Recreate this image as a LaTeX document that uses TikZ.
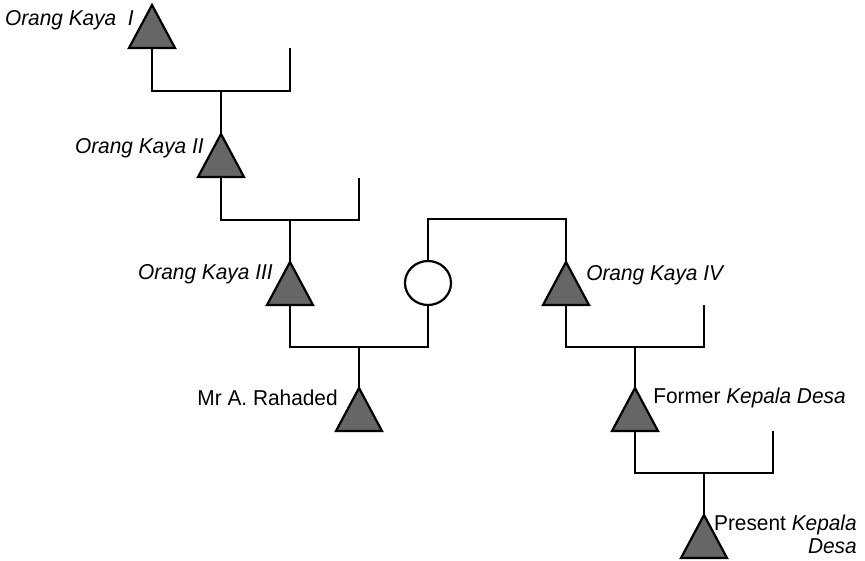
\documentclass[tikz,border=0pt]{standalone}
\usepackage{fontspec}
\setmainfont{Liberation Sans}[FakeStretch=0.97]
\usetikzlibrary{shapes.geometric}
\begin{document}
\begin{tikzpicture}[x=1pt,y=-1pt,line width=2.6pt,
	man/.style={isosceles triangle,isosceles triangle stretches,shape border rotate=90,
		minimum width=46pt,minimum height=43pt,inner sep=0pt,outer sep=0pt,
		draw,line width=2.2pt,fill=black!60,anchor=apex},
	woman/.style={ellipse,draw,line width=2.2pt,fill=white,minimum width=46pt,minimum height=44pt,
		inner sep=0pt,outer sep=0pt},
	lbl/.style={inner sep=0pt,font=\fontsize{21.5}{23}\selectfont}]
		\useasboundingbox (0,0) rectangle (865,560);

		% persons
		\node[man] (ok1) at (152,5) {};
		\node[man] (ok2) at (221,134) {};
		\node[man] (ok3) at (290,262) {};
		\node[woman] (wife) at (428,283) {};
		\node[man] (ok4) at (566,262) {};
		\node[man] (rah) at (359,388) {};
		\node[man] (fkd) at (635,388) {};
		\node[man] (pkd) at (704,515) {};

		% spouses and bar midpoints
		\coordinate (sp1) at (290,48);
		\coordinate (sp2) at (359,178);
		\coordinate (sp4) at (704,305);
		\coordinate (sp5) at (773,431);
		\coordinate (m1) at (221,91);
		\coordinate (m2) at (290,220);
		\coordinate (m3) at (359,347);
		\coordinate (m4) at (635,347);
		\coordinate (m5) at (704,473);
		\coordinate (sib) at (497,219);

		\draw (ok1.lower side) |- (m1) -| (sp1);
		\draw (m1) -- (ok2.apex);
		\draw (ok2.lower side) |- (m2) -| (sp2);
		\draw (m2) -- (ok3.apex);
		\draw (ok3.lower side) |- (m3) -| (wife.south);
		\draw (m3) -- (rah.apex);
		\draw (wife.north) |- (sib) -| (ok4.apex);
		\draw (ok4.lower side) |- (m4) -| (sp4);
		\draw (m4) -- (fkd.apex);
		\draw (fkd.lower side) |- (m5) -| (sp5);
		\draw (m5) -- (pkd.apex);

		% labels
		\node[lbl,anchor=base east] (l1) at (135,25) {\textit{Orang Kaya~~I}};
		\node[lbl,anchor=base east] (l2) at (205,153) {\textit{Orang Kaya II}};
		\node[lbl,anchor=base east] (l3) at (274,279) {\textit{Orang Kaya III}};
		\node[lbl,anchor=base west] (l4) at (585,280) {\textit{Orang Kaya IV}};
		\node[lbl,anchor=base east] (l5) at (339,405) {Mr A. Rahaded};
		\node[lbl,anchor=base west] (l6) at (652,403) {Former \textit{Kepala Desa}};
		\node[lbl,anchor=base east,align=right] (l7) at (858,553) {Present \textit{Kepala}\\\textit{Desa}};
	\end{tikzpicture}
\end{document}
